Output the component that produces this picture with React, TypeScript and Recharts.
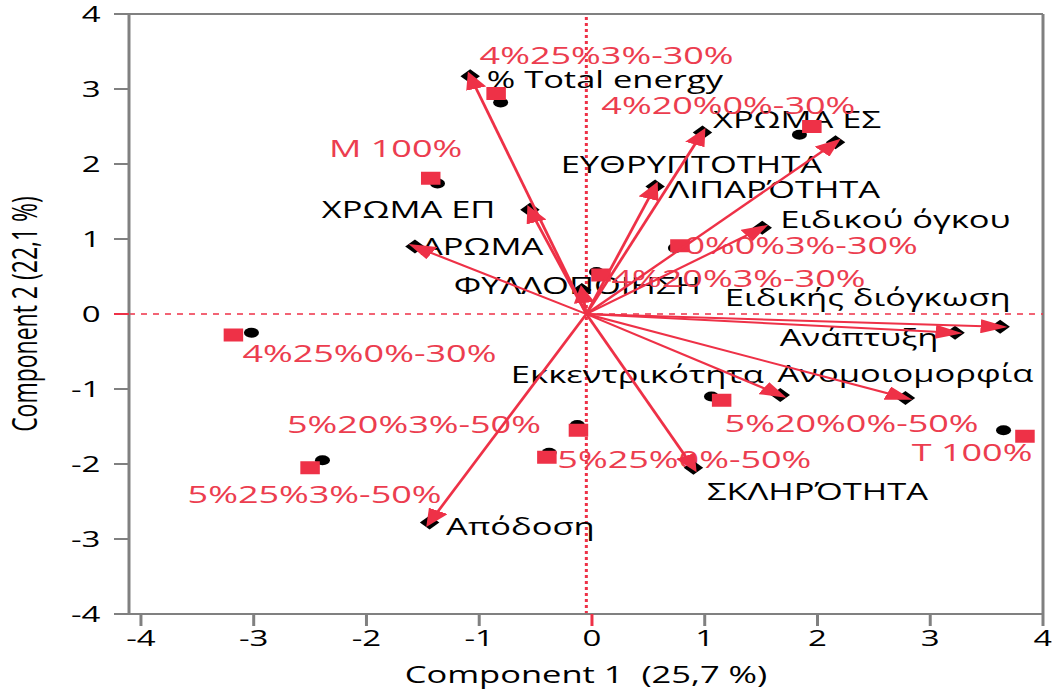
import React from "react";
import { ScatterChart, Scatter, XAxis, YAxis, ReferenceLine } from "recharts";

// The plot is drawn narrow and then widened with scaleX, so text and markers come out wide.
const STRETCH = 1.5;
const CHART_W = 1052 / STRETCH;
const CHART_H = 690;
const PLOT_LEFT = 86;
const PLOT_TOP = 14;
const PLOT_RIGHT = CHART_W - 6;
const PLOT_BOTTOM = 614;

const RED = "#ee3147";
const LABEL_RED = "#ec3d4f";
const AXIS_GRAY = "#808080";
const FONT = "'Open Sans', 'Noto Sans', sans-serif";

// Variable loadings (arrow tips)
const variableNames = [
  "% Total energy",
  "ΧΡΩΜΑ ΕΠ",
  "ΑΡΩΜΑ",
  "ΦΥΛΛΟΠΟΙΗΣΗ",
  "ΧΡΩΜΑ ΕΣ",
  "ΕΥΘΡΥΠΤΟΤΗΤΑ",
  "ΛΙΠΑΡΌΤΗΤΑ",
  "Ειδικού όγκου",
  "Ειδικής διόγκωση",
  "Ανάπτυξη",
  "Ανομοιομορφία",
  "Εκκεντρικότητα",
  "ΣΚΛΗΡΌΤΗΤΑ",
  "Απόδοση",
];
const loadingX = [-1.08, -0.55, -1.57, -0.09, 0.98, 2.16, 0.56, 1.51, 3.62, 3.22, 2.78, 1.67, 0.9, -1.44];
const loadingY = [3.17, 1.39, 0.9, 0.32, 2.42, 2.29, 1.7, 1.15, -0.17, -0.25, -1.12, -1.08, -2.05, -2.78];

// Sample scores: black circles and red squares
const sampleNames = [
  "4%25%3%-30%",
  "M 100%",
  "4%20%0%-30%",
  "0%0%3%-30%",
  "4%20%3%-30%",
  "4%25%0%-30%",
  "5%20%3%-50%",
  "5%25%3%-50%",
  "5%25%0%-50%",
  "5%20%0%-50%",
  "T 100%",
];
const scoreX = [-0.81, -1.37, 1.84, 0.74, 0.04, -3.02, -0.13, -2.39, -0.38, 1.06, 3.65];
const scoreY = [2.82, 1.74, 2.39, 0.88, 0.56, -0.25, -1.48, -1.95, -1.85, -1.1, -1.55];
const squareX = [-0.85, -1.43, 1.95, 0.78, 0.08, -3.18, -0.12, -2.5, -0.4, 1.15, 3.84];
const squareY = [2.94, 1.81, 2.5, 0.91, 0.52, -0.28, -1.55, -2.05, -1.91, -1.15, -1.63];

const xTicks = [-4, -3, -2, -1, 0, 1, 2, 3, 4];
const yTicks = [-4, -3, -2, -1, 0, 1, 2, 3, 4];

const ORIGIN_X = -0.05;
const ORIGIN_Y = 0;

// label placement next to each mark: [dx, dy, anchor]
type Place = [number, number, "start" | "middle" | "end"];
const variableLabelPlace: Place[] = [
  [11, 3, "start"],
  [-23, 0, "end"],
  [4, 0, "start"],
  [-3, -4, "middle"],
  [7, -13, "start"],
  [-9, 22, "end"],
  [9, 3, "start"],
  [12, -8, "start"],
  [7, -29, "end"],
  [-11, 5, "end"],
  [0, -24, "middle"],
  [-11, -20, "end"],
  [9, 24, "start"],
  [11, 4, "start"],
];
const sampleLabelPlace: Place[] = [
  [-11, -38, "start"],
  [21, -30, "end"],
  [29, -21, "end"],
  [3, 0, "start"],
  [7, 3, "start"],
  [6, 18, "start"],
  [-25, -6, "end"],
  [3, 27, "middle"],
  [7, 2, "start"],
  [2, 23, "start"],
  [5, 16, "end"],
];

const variables = variableNames.map((name, i) => ({
  name,
  x: loadingX[i],
  y: loadingY[i],
  place: variableLabelPlace[i],
}));
const circles = sampleNames.map((name, i) => ({ name, x: scoreX[i], y: scoreY[i] }));
const squares = sampleNames.map((name, i) => ({
  name,
  x: squareX[i],
  y: squareY[i],
  place: sampleLabelPlace[i],
}));

const Empty = () => <g />;

const Diamond = ({ cx, cy }: any) => (
  <polygon
    points={`${cx - 6.5},${cy} ${cx},${cy - 7} ${cx + 6.5},${cy} ${cx},${cy + 7}`}
    fill="#000"
  />
);

const Dot = ({ cx, cy }: any) => <circle cx={cx} cy={cy} r={5} fill="#000" />;

const Square = ({ cx, cy }: any) => (
  <rect x={cx - 6.5} y={cy - 6.5} width={13} height={13} fill={RED} />
);

const makeLabel = (color: string, size: number) => (props: any) => {
  const { cx, cy, payload } = props;
  const [dx, dy, anchor] = payload.place as Place;
  return (
    <text
      x={cx + dx}
      y={cy + dy}
      dy="0.36em"
      textAnchor={anchor}
      fontSize={size}
      fontFamily={FONT}
      fill={color}
    >
      {payload.name}
    </text>
  );
};
const VariableLabel = makeLabel("#000", 23);
const SampleLabel = makeLabel(LABEL_RED, 24);

const ArrowLine = (props: any) => {
  const pts = props.points;
  if (!pts || pts.length < 2) return <g />;
  return (
    <path
      d={`M${pts[0].x},${pts[0].y}L${pts[1].x},${pts[1].y}`}
      stroke={RED}
      strokeWidth={2}
      fill="none"
      markerEnd="url(#arrowHead)"
    />
  );
};

const XTick = ({ x, payload }: any) => (
  <g>
    <line
      x1={x}
      x2={x}
      y1={PLOT_BOTTOM}
      y2={PLOT_BOTTOM + 12}
      stroke={payload.value === 0 ? RED : AXIS_GRAY}
      strokeWidth={2}
    />
    <text x={x} y={PLOT_BOTTOM + 32} textAnchor="middle" fontSize={22} fontFamily={FONT} fill="#000">
      {payload.value}
    </text>
  </g>
);

const YTick = ({ y, payload }: any) => (
  <g>
    <line
      x1={PLOT_LEFT - 10}
      x2={PLOT_LEFT}
      y1={y}
      y2={y}
      stroke={payload.value === 0 ? RED : AXIS_GRAY}
      strokeWidth={2}
    />
    <text
      x={PLOT_LEFT - 19}
      y={y}
      dy="0.36em"
      textAnchor="end"
      fontSize={22}
      fontFamily={FONT}
      fill="#000"
    >
      {payload.value}
    </text>
  </g>
);

const XTitle = () => (
  <text
    x={(PLOT_LEFT + PLOT_RIGHT) / 2}
    y={683}
    textAnchor="middle"
    fontSize={23}
    fontFamily={FONT}
    fill="#000"
  >
    {"Component 1\u00a0 (25,7 %)"}
  </text>
);

const YTitle = () => {
  const cx = 25;
  const cy = (PLOT_TOP + PLOT_BOTTOM) / 2;
  return (
    <text
      x={cx}
      y={cy}
      transform={`rotate(-90 ${cx} ${cy})`}
      textAnchor="middle"
      fontSize={23}
      fontFamily={FONT}
      fill="#000"
    >
      Component 2 (22,1 %)
    </text>
  );
};

export default function App() {
  return (
    <div
      style={{
        position: "absolute",
        left: 0,
        top: 0,
        width: 1052,
        height: CHART_H,
        overflow: "hidden",
        background: "#fff",
      }}
    >
      <div style={{ width: CHART_W, transform: `scaleX(${STRETCH})`, transformOrigin: "0 0" }}>
        <ScatterChart
          width={CHART_W}
          height={CHART_H}
          margin={{ top: PLOT_TOP, right: CHART_W - PLOT_RIGHT, bottom: 0, left: 0 }}
        >
          <defs>
            <marker
              id="arrowHead"
              viewBox="0 0 18 14"
              refX={13}
              refY={7}
              markerWidth={18}
              markerHeight={14}
              markerUnits="userSpaceOnUse"
              orient="auto"
            >
              <path d="M0,0 L18,7 L0,14 z" fill={RED} />
            </marker>
          </defs>
          <XAxis
            type="number"
            dataKey="x"
            domain={[-4.106, 4]}
            ticks={xTicks}
            height={CHART_H - PLOT_BOTTOM}
            tickLine={false}
            tick={<XTick />}
            axisLine={{ stroke: AXIS_GRAY, strokeWidth: 2 }}
            label={<XTitle />}
          />
          <YAxis
            type="number"
            dataKey="y"
            domain={[-4, 4]}
            ticks={yTicks}
            width={PLOT_LEFT}
            tickLine={false}
            tick={<YTick />}
            axisLine={{ stroke: AXIS_GRAY, strokeWidth: 2 }}
            label={<YTitle />}
          />
          <ReferenceLine y={4} stroke={AXIS_GRAY} strokeWidth={2} />
          <ReferenceLine x={4} stroke={AXIS_GRAY} strokeWidth={2} />
          <ReferenceLine y={ORIGIN_Y} stroke={RED} strokeWidth={1.5} strokeDasharray="4 4" />
          <ReferenceLine x={ORIGIN_X} stroke={RED} strokeWidth={2} strokeDasharray="3 3" />

          <Scatter data={variables} shape={VariableLabel} isAnimationActive={false} />
          <Scatter data={squares} shape={SampleLabel} isAnimationActive={false} />
          <Scatter data={circles} shape={Dot} isAnimationActive={false} />
          <Scatter data={squares} shape={Square} isAnimationActive={false} />
          <Scatter data={variables} shape={Diamond} isAnimationActive={false} />
          {variables.map((v) => (
            <Scatter
              key={v.name}
              data={[
                { x: ORIGIN_X, y: ORIGIN_Y },
                { x: v.x, y: v.y },
              ]}
              line={ArrowLine}
              shape={Empty}
              isAnimationActive={false}
            />
          ))}
        </ScatterChart>
      </div>
    </div>
  );
}
